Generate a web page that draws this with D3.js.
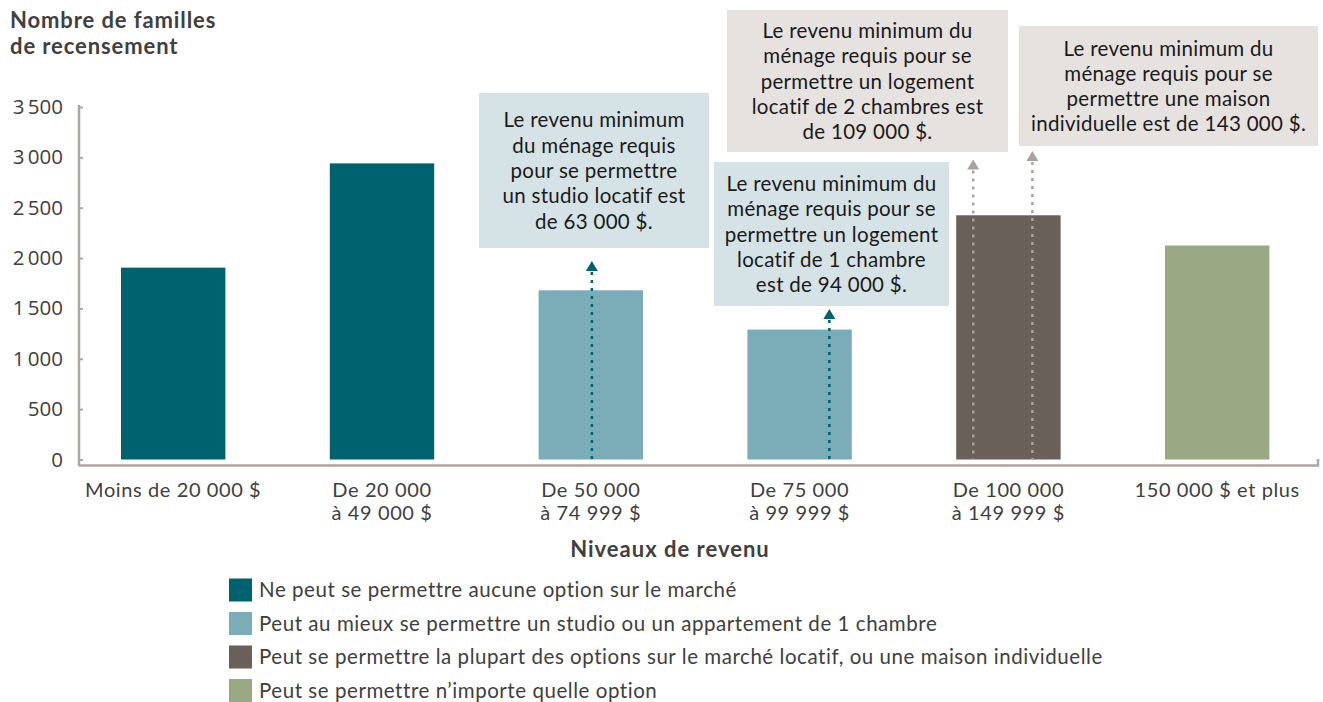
<!DOCTYPE html>
<html><head><meta charset="utf-8">
<script src="https://cdn.jsdelivr.net/npm/d3@7"></script>
<style>
html,body{margin:0;padding:0;background:#fff;}
svg{display:block;}
</style></head>
<body>
<svg id="chart" width="1323" height="702"></svg>
<script>
// ---------- data ----------
const categories = ["Moins de 20 000 $", "De 20 000\nà 49 000 $", "De 50 000\nà 74 999 $", "De 75 000\nà 99 999 $", "De 100 000\nà 149 999 $", "150 000 $ et plus"];
const values = [1905, 2940, 1680, 1290, 2425, 2125];
const groupOfBar = [0, 0, 1, 1, 2, 3];
const legendLabels = [
  "Ne peut se permettre aucune option sur le marché",
  "Peut au mieux se permettre un studio ou un appartement de 1 chambre",
  "Peut se permettre la plupart des options sur le marché locatif, ou une maison individuelle",
  "Peut se permettre n’importe quelle option"
];
const yTicks = [0, 500, 1000, 1500, 2000, 2500, 3000, 3500];
const annotationTexts = [
  ["Le revenu minimum", "du ménage requis", "pour se permettre", "un studio locatif est", "de 63 000 $."],
  ["Le revenu minimum du", "ménage requis pour se", "permettre un logement", "locatif de 1 chambre", "est de 94 000 $."],
  ["Le revenu minimum du", "ménage requis pour se", "permettre un logement", "locatif de 2 chambres est", "de 109 000 $."],
  ["Le revenu minimum du", "ménage requis pour se", "permettre une maison", "individuelle est de 143 000 $."]
];
const annotationBar = [2, 3, 4, 4];
const yTitle = ["Nombre de familles", "de recensement"];
const xTitle = "Niveaux de revenu";

// ---------- styles / layout ----------
const colors = ["#00626F", "#7BADB9", "#6A605A", "#9BA884"];
const boxFill = ["#D6E3E6", "#D6E3E6", "#E6E2E0", "#E6E2E0"];
const arrowColor = ["#00626F", "#00626F", "#A9A29E", "#A9A29E"];
const boxLayout = [
  {x: 479, y: 93, w: 230, h: 155},
  {x: 714, y: 162, w: 235, h: 144},
  {x: 727, y: 10, w: 281, h: 142},
  {x: 1019, y: 26, w: 299, h: 120}
];
const arrowFrac = [0.51, 0.785, 0.163, 0.73];
const arrowTip = [261, 309, 159.5, 151];
const gill = "'Lato', 'Open Sans', sans-serif";
const seg = "'Open Sans', 'Noto Sans', sans-serif";
const textColor = "#404040";

const svg = d3.select("#chart");

const x = d3.scaleBand().domain(d3.range(categories.length)).range([68.8, 1321.6]).paddingInner(0.5).paddingOuter(0.25);
const y = d3.scaleLinear().domain([0, 3500]).range([459.5, 107]);

// y axis
const yAxis = svg.append("g").attr("transform", "translate(79,0)")
  .call(d3.axisLeft(y).tickValues(yTicks).tickSizeInner(-4).tickSizeOuter(0).tickPadding(16)
    .tickFormat(d => d3.format(",")(d).replace(/,/g, "\u2009")));
yAxis.select(".domain").remove();
yAxis.selectAll(".tick line").attr("stroke", "#ADA7A2").attr("stroke-width", 2);
yAxis.selectAll(".tick text").attr("fill", textColor).style("font-family", seg).style("font-size", "20.5px");
svg.append("line").attr("x1", 79).attr("x2", 79).attr("y1", 105).attr("y2", 466)
  .attr("stroke", "#ADA7A2").attr("stroke-width", 2.5);

// x axis line
svg.append("path").attr("d", "M79,465.5H1318V459").attr("fill", "none")
  .attr("stroke", "#ADA7A2").attr("stroke-width", 2.5);

// bars
svg.append("g").selectAll("rect").data(values).join("rect")
  .attr("x", (d, i) => x(i)).attr("width", x.bandwidth())
  .attr("y", d => y(d)).attr("height", d => y(0) - y(d))
  .attr("fill", (d, i) => colors[groupOfBar[i]]);

// x tick labels
const xl = svg.append("g");
categories.forEach((c, i) => {
  const t = xl.append("text").attr("x", x(i) + x.bandwidth() / 2).attr("y", 497)
    .attr("text-anchor", "middle").attr("fill", textColor)
    .style("font-family", gill).style("font-size", "20px").style("letter-spacing", "0.6px");
  c.split("\n").forEach((line, k) => {
    t.append("tspan").attr("x", x(i) + x.bandwidth() / 2).attr("dy", k === 0 ? 0 : 22.5).text(line);
  });
});

// titles
const yt = svg.append("text").attr("x", 10).attr("y", 28).attr("fill", textColor)
  .style("font-family", gill).style("font-size", "22px").style("font-weight", "bold").style("letter-spacing", "0.9px");
yTitle.forEach((l, k) => yt.append("tspan").attr("x", 10).attr("dy", k === 0 ? 0 : 26).text(l));
svg.append("text").attr("x", 670).attr("y", 557).attr("text-anchor", "middle").attr("fill", textColor)
  .style("font-family", gill).style("font-size", "22px").style("font-weight", "bold").style("letter-spacing", "1px").text(xTitle);

// annotations
annotationTexts.forEach((lines, i) => {
  const b = boxLayout[i];
  svg.append("rect").attr("x", b.x).attr("y", b.y).attr("width", b.w).attr("height", b.h).attr("fill", boxFill[i]);
  const cx = b.x + b.w / 2;
  const lh = 25.3;
  const y0 = b.y + b.h / 2 - (lines.length - 1) * lh / 2 + 7.5;
  const t = svg.append("text").attr("text-anchor", "middle").attr("fill", "#1A1A1A")
    .style("font-family", gill).style("font-size", "20.5px").style("letter-spacing", "0.3px");
  lines.forEach((l, k) => t.append("tspan").attr("x", cx).attr("y", y0 + k * lh).text(l));
  const ax = x(annotationBar[i]) + x.bandwidth() * arrowFrac[i];
  const tip = arrowTip[i];
  svg.append("line").attr("x1", ax).attr("x2", ax).attr("y1", tip + 11).attr("y2", y(0))
    .attr("stroke", arrowColor[i]).attr("stroke-width", 2.5).attr("stroke-dasharray", "3,5");
  svg.append("path").attr("d", `M${ax},${tip}L${ax - 6},${tip + 10}L${ax + 6},${tip + 10}Z`).attr("fill", arrowColor[i]);
});

// legend
const lg = svg.append("g");
legendLabels.forEach((l, i) => {
  const cy = 590 + i * 33.5;
  lg.append("rect").attr("x", 229).attr("y", cy - 11.5).attr("width", 23).attr("height", 23).attr("fill", colors[i]);
  lg.append("text").attr("x", 259).attr("y", cy + 7).attr("fill", textColor)
    .style("font-family", gill).style("font-size", "20.5px").style("letter-spacing", "0.55px").text(l);
});
</script>
</body></html>
